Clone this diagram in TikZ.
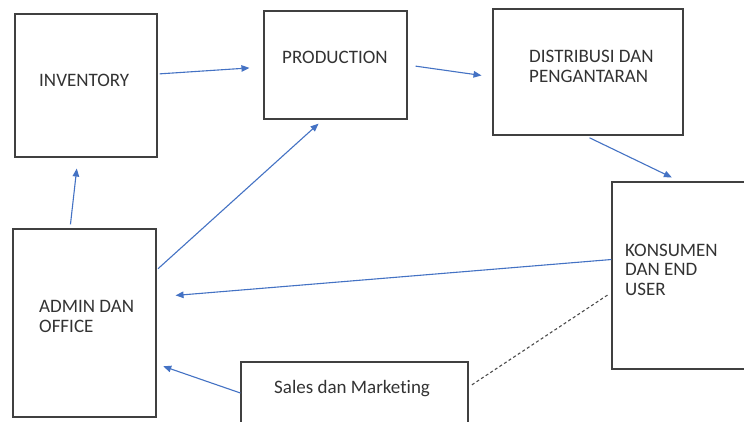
\documentclass[tikz,border=0pt]{standalone}
\usepackage{fontspec}
\setmainfont{Carlito}[Ligatures=NoCommon]
\usepackage{tikz}
\usetikzlibrary{arrows.meta}
\usetikzlibrary{positioning}

\definecolor{flowblue}{HTML}{4472C4}

\begin{document}
\begin{tikzpicture}[
    x=1pt, y=-1pt,
    box/.style = {shape=rectangle, draw=black!75, line width=1.2pt,
      inner sep=0pt},
    lbl/.style = {anchor=base west, align=left, inner sep=0pt,
      text=black!80, font=\fontsize{19}{19.5}\selectfont},
    flow/.style = {draw=flowblue, line width=1.1pt,
      -{Triangle[length=8pt,width=6.5pt]}},
    link/.style = {draw=black!70, line width=1.1pt, dashed,
      dash pattern=on 3pt off 2.5pt}]
    \clip (0,0) rectangle (744,421);
    \fill[white] (0,0) rectangle (744,421);

    % boxes
    \node[box, minimum width=142pt, minimum height=143pt] (inv)   at (86,85.5) {};
    \node[box, minimum width=143pt, minimum height=108pt] (prod)  at (335.5,65) {};
    \node[box, minimum width=190pt, minimum height=126pt] (dist)  at (588,72) {};
    \node[box, minimum width=150pt, minimum height=187pt] (kons)  at (687,275.5) {};
    \node[box, minimum width=143pt, minimum height=188pt] (admin) at (84.5,323) {};
    \node[box, minimum width=227pt, minimum height=70pt]  (sales) at (354.5,397) {};

    % texts (base = last line)
    \node[lbl] (inv-t)   at (39,86)  {INVENTORY};
    \node[lbl] (prod-t)  at (282,63) {PRODUCTION};
    \node[lbl] (dist-t)  at (529,82) {DISTRIBUSI DAN\\PENGANTARAN};
    \node[lbl] (kons-t)  at (625,295) {KONSUMEN\\DAN END\\USER};
    \node[lbl] (admin-t) at (39,332) {ADMIN DAN\\OFFICE};
    \node[lbl] (sales-t) at (274,393) {Sales dan Marketing};

    % connectors
    \draw[flow, shorten <=2pt, shorten >=14pt]
      ([yshift=11.5pt]inv.east) -- ([yshift=-2pt]prod.west);
    \draw[flow, shorten <=8pt, shorten >=11pt]
      (prod.east) -- ([yshift=-5pt]dist.west);
    \draw[flow, shorten <=5pt, shorten >=9pt]
      ([xshift=-3pt]dist.south) -- ([xshift=-7pt]kons.north);
    \draw[flow, shorten <=4pt, shorten >=11pt]
      ([xshift=-14.5pt]admin.north) -- ([xshift=-8pt]inv.south);
    \draw[flow, shorten <=2pt, shorten >=6pt]
      ([yshift=53pt]admin.east) -- ([xshift=-12.5pt]prod.south);
    \draw[flow, shorten >=19pt]
      ([yshift=16pt]kons.west) -- ([yshift=26pt]admin.east);
    \draw[flow, shorten >=7pt]
      ([yshift=4pt]sales.west) -- ([yshift=-41pt]admin.east);
    \draw[link, shorten <=4pt, shorten >=3pt]
      ([yshift=10pt]sales.east) -- ([yshift=-17pt]kons.west);
\end{tikzpicture}
\end{document}
